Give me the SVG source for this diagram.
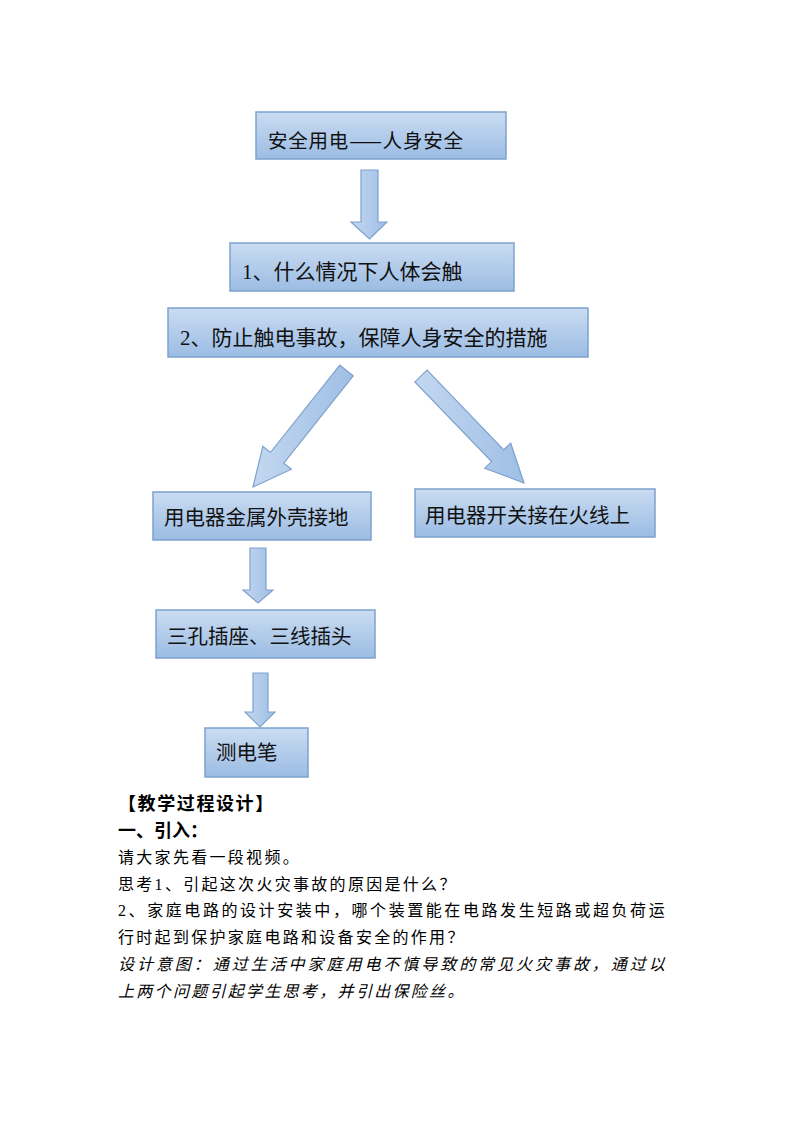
<svg xmlns="http://www.w3.org/2000/svg" width="794" height="1123" viewBox="0 0 794 1123">
<defs>
<linearGradient id="gb" x1="0" y1="0" x2="0" y2="1">
<stop offset="0" stop-color="#cadcf2"/>
<stop offset="1" stop-color="#9bbce3"/>
</linearGradient>
<linearGradient id="ga" x1="0" y1="0" x2="1" y2="0">
<stop offset="0" stop-color="#c3d7f0"/>
<stop offset="1" stop-color="#9fbfe5"/>
</linearGradient>
<style>
.box{fill:url(#gb);stroke:#7ea2cd;stroke-width:1.5}
.arr{fill:url(#ga);stroke:#7ea2cd;stroke-width:1.2;stroke-linejoin:miter}
.ts{font-family:"Noto Sans CJK SC","Liberation Sans",sans-serif;font-size:20.5px;fill:#111}
.tr{font-family:"Liberation Serif","Noto Sans CJK SC",serif;font-size:21px;fill:#111}
.h{font-family:"Noto Sans CJK SC","Liberation Sans",sans-serif;font-size:18px;font-weight:bold;fill:#000}
.b{font-family:"Liberation Serif","Noto Sans CJK SC",serif;font-size:16px;letter-spacing:2.3px;fill:#000}
.i{font-style:italic}
</style>
</defs>
<g id="connectors">
<polygon class="arr" points="361,170 378,170 378,222 387,222 369.5,239 351,222 361,222"/>
<polygon class="arr" points="353.2,375.8 283.8,463.1 291.4,469.2 253,487 262.8,446.4 270.4,452.5 339.8,365.2"/>
<polygon class="arr" points="427.1,370.1 503.8,449.8 510.7,443.2 524,483 484.7,468.2 491.6,461.6 414.9,381.9"/>
<polygon class="arr" points="250,548 266,548 266,590 273,590 258,603 243,590 250,590"/>
<polygon class="arr" points="253,673 268,673 268,712 275,712 260,727 245,712 253,712"/>
</g>
<g id="n1"><rect class="box" x="256" y="112" width="250" height="47"/><text class="ts" x="268" y="148" style="font-size:19.5px" textLength="195" lengthAdjust="spacing">安全用电——人身安全</text></g>
<g id="n2"><rect class="box" x="230" y="243" width="284" height="48"/><text class="tr" x="242" y="279">1、什么情况下人体会触</text></g>
<g id="n3"><rect class="box" x="168" y="308" width="420" height="49"/><text class="tr" x="180" y="345">2、防止触电事故，保障人身安全的措施</text></g>
<g id="n4"><rect class="box" x="153" y="492" width="218" height="48"/><text class="ts" x="164" y="525">用电器金属外壳接地</text></g>
<g id="n5"><rect class="box" x="415" y="489" width="240" height="48"/><text class="ts" x="425" y="523">用电器开关接在火线上</text></g>
<g id="n6"><rect class="box" x="156" y="610" width="219" height="48"/><text class="ts" x="167" y="644">三孔插座、三线插头</text></g>
<g id="n7"><rect class="box" x="205" y="728" width="103" height="49"/><text class="ts" x="216" y="760">测电笔</text></g>
<g id="text">
<text class="h" x="118" y="810" style="letter-spacing:1.6px">【教学过程设计】</text>
<text class="h" x="118" y="837">一、引入：</text>
<text class="b" x="118" y="863">请大家先看一段视频。</text>
<text class="b" x="118" y="890">思考1、引起这次火灾事故的原因是什么？</text>
<text class="b" x="118" y="916" textLength="549" lengthAdjust="spacing">2、家庭电路的设计安装中，哪个装置能在电路发生短路或超负荷运</text>
<text class="b" x="118" y="943">行时起到保护家庭电路和设备安全的作用？</text>
<text class="b i" x="118" y="970" textLength="549" lengthAdjust="spacing">设计意图：通过生活中家庭用电不慎导致的常见火灾事故，通过以</text>
<text class="b i" x="118" y="997">上两个问题引起学生思考，并引出保险丝。</text>
</g>
</svg>
